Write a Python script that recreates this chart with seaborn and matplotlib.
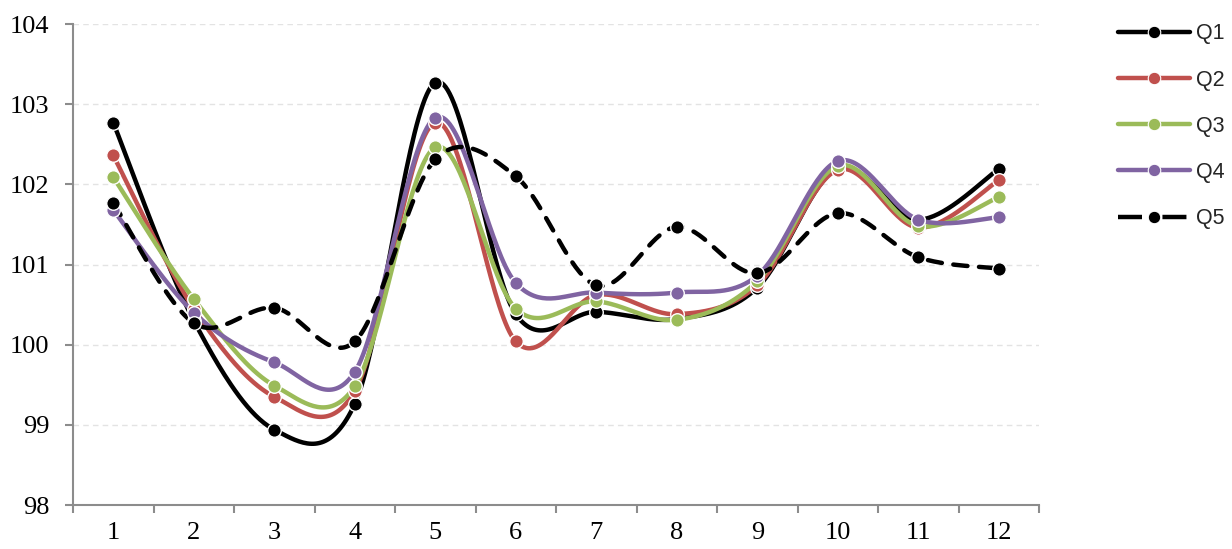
import numpy as np
import pandas as pd
import matplotlib
matplotlib.use("Agg")
import matplotlib.pyplot as plt
from matplotlib.lines import Line2D
import seaborn as sns

# Monthly index values by quintile
months = list(range(1, 13))
q1 = [102.77, 100.30, 98.94, 99.26, 103.27, 100.38, 100.41, 100.32, 100.71, 102.20, 101.56, 102.19]
q2 = [102.36, 100.45, 99.35, 99.42, 102.77, 100.04, 100.62, 100.38, 100.74, 102.18, 101.46, 102.05]
q3 = [102.09, 100.57, 99.49, 99.48, 102.46, 100.45, 100.54, 100.31, 100.79, 102.23, 101.48, 101.84]
q4 = [101.68, 100.40, 99.78, 99.66, 102.83, 100.77, 100.65, 100.65, 100.86, 102.29, 101.56, 101.59]
q5 = [101.77, 100.27, 100.46, 100.04, 102.31, 102.10, 100.74, 101.47, 100.89, 101.64, 101.09, 100.95]

series_names = ["Q1", "Q2", "Q3", "Q4", "Q5"]
series_values = [q1, q2, q3, q4, q5]
colors = ["#000000", "#C0504D", "#9BBB59", "#8064A2", "#000000"]
styles = ["-", "-", "-", "-", "--"]


def smooth(xs, ys, n=40):
    """Cubic Bezier smoothing through every point (Catmull-Rom control points)."""
    xs = np.asarray(xs, float)
    ys = np.asarray(ys, float)
    px = np.concatenate([[xs[0]], xs, [xs[-1]]])
    py = np.concatenate([[ys[0]], ys, [ys[-1]]])
    out_x, out_y = [], []
    t = np.linspace(0, 1, n)
    for i in range(1, len(px) - 2):
        p0 = np.array([px[i], py[i]])
        p3 = np.array([px[i + 1], py[i + 1]])
        c1 = p0 + (np.array([px[i + 1], py[i + 1]]) - np.array([px[i - 1], py[i - 1]])) / 6
        c2 = p3 - (np.array([px[i + 2], py[i + 2]]) - np.array([px[i], py[i]])) / 6
        b = ((1 - t) ** 3)[:, None] * p0 + (3 * (1 - t) ** 2 * t)[:, None] * c1 \
            + (3 * (1 - t) * t ** 2)[:, None] * c2 + (t ** 3)[:, None] * p3
        seg = b if i == 1 else b[1:]
        out_x.extend(seg[:, 0])
        out_y.extend(seg[:, 1])
    return np.array(out_x), np.array(out_y)


sns.set_theme(style="white")
plt.rcParams["font.family"] = ["Liberation Serif", "DejaVu Serif"]

fig = plt.figure(figsize=(12.32, 5.49), dpi=100)
ax = fig.add_axes([73 / 1232, 1 - 505 / 549, (1039 - 73) / 1232, (505 - 24) / 549])

lw = 3.2
for name, vals, col, ls in zip(series_names, series_values, colors, styles):
    sx, sy = smooth(months, vals)
    curve = pd.DataFrame({"x": sx, "y": sy})
    sns.lineplot(data=curve, x="x", y="y", color=col, linewidth=lw, sort=False,
                 estimator=None, ax=ax)
    if ls == "--":
        ln = ax.lines[-1]
        ln.set_dashes((3.2, 2.6))
        ln.set_dash_capstyle("round")
    pts = pd.DataFrame({"x": months, "y": vals})
    sns.scatterplot(data=pts, x="x", y="y", color=col, s=95, edgecolor="white",
                    linewidth=1.0, zorder=3, ax=ax)

ax.set_xlim(0.5, 12.5)
ax.set_ylim(98, 104)
ax.set_xticks(months)
ax.set_xticklabels([str(m) for m in months])
ax.set_xticks(np.arange(0.5, 13, 1), minor=True)
ax.set_yticks(range(98, 105))
ax.set_xlabel("")
ax.set_ylabel("")

ax.tick_params(axis="x", which="major", length=0, pad=12, labelsize=19, colors="black")
ax.tick_params(axis="x", which="minor", length=6, width=1.5, color="#8C8C8C", direction="out", bottom=True)
ax.tick_params(axis="y", which="major", length=6, width=1.5, color="#8C8C8C", direction="out",
               pad=11, labelsize=19, left=True)
for lab in ax.get_yticklabels():
    lab.set_color("black")

for side in ("top", "right"):
    ax.spines[side].set_visible(False)
for side in ("left", "bottom"):
    ax.spines[side].set_color("#8C8C8C")
    ax.spines[side].set_linewidth(1.5)

ax.yaxis.grid(True, color="#E3E3E3", linestyle=(0, (4, 3)), linewidth=1.0)
ax.set_axisbelow(True)

handles = []
for name, col, ls in zip(series_names, colors, styles):
    h = Line2D([], [], color=col, linewidth=lw, linestyle="-", marker="o", markersize=9,
               markerfacecolor=col, markeredgecolor="white", markeredgewidth=0.8)
    if ls == "--":
        h.set_dashes((5.4, 4.6))
    handles.append(h)
leg = fig.legend(handles, series_names, loc="upper left",
                 bbox_to_anchor=(1098.6 / 1232, 1 - 4 / 549),
                 frameon=False, handlelength=3.35, handletextpad=0.28, labelspacing=1.17,
                 prop={"family": ["Liberation Sans", "DejaVu Sans"], "size": 15.5})

fig.savefig("out.png", dpi=100, facecolor="white")
